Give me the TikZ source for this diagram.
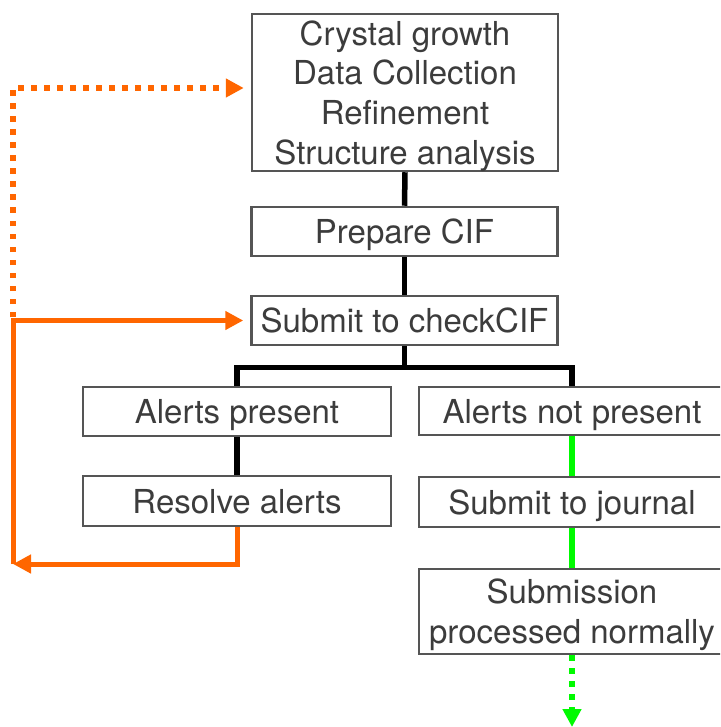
\documentclass[tikz,border=0pt]{standalone}
\usepackage{fontspec}
\setmainfont{TeX Gyre Heros}
\usetikzlibrary{arrows.meta}
\definecolor{boxline}{HTML}{555555}
\definecolor{txt}{HTML}{3C3C3C}
\definecolor{org}{HTML}{FF6600}
\definecolor{grn}{HTML}{00FA00}
\tikzset{
  box/.style={draw=boxline, line width=2.5pt, fill=white, inner sep=0pt, align=center,
    text=txt, font=\fontsize{33}{39.7}\selectfont, minimum width=306pt, text depth=0pt},
  blk/.style={line width=5.5pt, black},
  gline/.style={line width=5.5pt, grn},
  oline/.style={line width=5pt, org},
  odot/.style={line width=5.5pt, org, dash pattern=on 5.5pt off 7.5pt},
  gdot/.style={line width=6pt, grn, dash pattern=on 6pt off 7pt},
  otip/.style={-{Triangle[length=18pt,width=18pt]}},
}
\begin{document}
\begin{tikzpicture}[x=1pt,y=-1pt]
\useasboundingbox (0,0) rectangle (720,727);
\clip (0,0) rectangle (720,727);
\node[box, minimum height=157pt] (top) at (405,92.5) {Crystal growth\\Data Collection\\Refinement\\Structure analysis};
\node[box, minimum height=49pt] (prep) at (404.5,231.5) {Prepare CIF};
\node[box, minimum height=49pt] (check) at (404.5,320.5) {Submit to checkCIF};
\node[box, minimum height=49pt, minimum width=308pt] (ap) at (237,411.5) {Alerts present};
\node[box, minimum height=50pt, minimum width=308pt] (rsv) at (237,501) {Resolve alerts};
\node[box, minimum height=48pt] (anp) at (572,411) {Alerts not present};
\node[box, minimum height=50pt] (sj) at (572,502) {Submit to journal};
\node[box, minimum height=85pt] (sub) at (572,611.5) {Submission\\processed normally};
\coordinate (bl) at (13,564);
\coordinate (ml) at (13,321);
\coordinate (gend) at (572,727);
% black connectors
\draw[blk] (top.south) -- (prep.north);
\draw[blk] (prep.south) -- (check.north);
\draw[blk] (check.south) -- ++(0,21) coordinate (split);
\draw[blk] (ap.north) |- (split) -| (anp.north);
\draw[blk] (ap.south) -- (rsv.north);
% green connectors
\draw[gline] (anp.south) -- (sj.north);
\draw[gline] (sj.south) -- (sub.north);
\draw[gdot, -{Triangle[length=18pt,width=18pt]}] (sub.south) -- (gend);
% orange connectors
\draw[oline, otip] (rsv.south) |- (bl);
\draw[oline, otip] (bl) |- ([xshift=-7pt]check.west);
\draw[odot, otip] ([yshift=4pt]ml) |- ([xshift=-7pt,yshift=4.5pt]top.west);
\end{tikzpicture}
\end{document}
